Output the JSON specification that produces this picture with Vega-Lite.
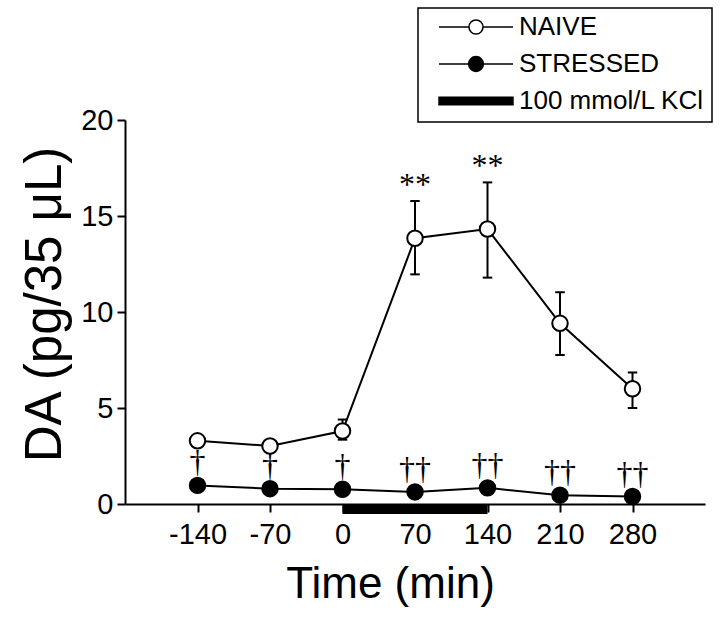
{
  "$schema": "https://vega.github.io/schema/vega-lite/v6.json",
  "width": 580,
  "height": 384,
  "autosize": "none",
  "padding": {"left": 125, "top": 120, "right": 15, "bottom": 124},
  "background": "white",
  "config": {
    "view": {"stroke": null},
    "font": "Liberation Sans",
    "axis": {
      "grid": false,
      "domainColor": "black",
      "domainWidth": 2,
      "tickColor": "black",
      "tickWidth": 2,
      "tickSize": 8,
      "labelColor": "black",
      "labelFont": "Liberation Sans",
      "labelFontSize": 29,
      "titleColor": "black",
      "titleFont": "Liberation Sans",
      "titleFontWeight": "normal"
    },
    "legend": {
      "labelFont": "Liberation Sans",
      "labelFontSize": 26,
      "labelColor": "black",
      "labelLimit": 400
    }
  },
  "datasets": {
    "series": [
      {"time": -140, "group": "NAIVE", "mean": 3.29, "lo": 3.15, "hi": 3.45, "note": ""},
      {"time": -70, "group": "NAIVE", "mean": 3.02, "lo": 2.9, "hi": 3.15, "note": ""},
      {"time": 0, "group": "NAIVE", "mean": 3.8, "lo": 3.35, "hi": 4.4, "note": ""},
      {"time": 70, "group": "NAIVE", "mean": 13.84, "lo": 11.96, "hi": 15.78, "note": "**"},
      {"time": 140, "group": "NAIVE", "mean": 14.32, "lo": 11.79, "hi": 16.75, "note": "**"},
      {"time": 210, "group": "NAIVE", "mean": 9.41, "lo": 7.76, "hi": 11.03, "note": ""},
      {"time": 280, "group": "NAIVE", "mean": 6.0, "lo": 5.0, "hi": 6.85, "note": ""},
      {"time": -140, "group": "STRESSED", "mean": 0.97, "lo": 0.9, "hi": 1.05, "note": "†"},
      {"time": -70, "group": "STRESSED", "mean": 0.8, "lo": 0.75, "hi": 0.85, "note": "†"},
      {"time": 0, "group": "STRESSED", "mean": 0.77, "lo": 0.72, "hi": 0.82, "note": "†"},
      {"time": 70, "group": "STRESSED", "mean": 0.63, "lo": 0.58, "hi": 0.68, "note": "††"},
      {"time": 140, "group": "STRESSED", "mean": 0.84, "lo": 0.79, "hi": 0.89, "note": "††"},
      {"time": 210, "group": "STRESSED", "mean": 0.46, "lo": 0.41, "hi": 0.51, "note": "††"},
      {"time": 280, "group": "STRESSED", "mean": 0.39, "lo": 0.34, "hi": 0.44, "note": "††"}
    ],
    "kcl": [{"start": 0, "end": 140, "group": "100 mmol/L KCl"}]
  },
  "layer": [
    {
      "data": {"name": "kcl"},
      "mark": {"type": "rule", "strokeWidth": 9, "color": "black", "yOffset": 5.5},
      "encoding": {
        "x": {"field": "start", "type": "quantitative", "scale": {"domain": [-210, 350], "nice": false}, "title": "Time (min)"},
        "x2": {"field": "end"},
        "y": {"datum": 0, "type": "quantitative", "scale": {"domain": [0, 20], "nice": false}, "title": "DA (pg/35 μL)"}
      }
    },
    {
      "data": {"name": "series"},
      "mark": {"type": "line", "color": "black", "strokeWidth": 2},
      "encoding": {
        "x": {
          "field": "time", "type": "quantitative",
          "scale": {"domain": [-210, 350], "nice": false},
          "title": "Time (min)",
          "axis": {
            "values": [-140, -70, 0, 70, 140, 210, 280],
            "labelExpr": "'' + datum.value",
            "labelPadding": 8,
            "titleFontSize": 44,
            "titlePadding": 13,
            "titleX": 265
          }
        },
        "y": {
          "field": "mean", "type": "quantitative",
          "scale": {"domain": [0, 20], "nice": false},
          "title": "DA (pg/35 μL)",
          "axis": {
            "values": [0, 5, 10, 15, 20],
            "labelPadding": 4,
            "titleFontSize": 51,
            "titlePadding": 9,
            "titleY": 184
          }
        },
        "detail": {"field": "group"}
      }
    },
    {
      "data": {"name": "series"},
      "mark": {"type": "rule", "color": "black", "strokeWidth": 2},
      "encoding": {
        "x": {"field": "time", "type": "quantitative", "title": "Time (min)"},
        "y": {"field": "lo", "type": "quantitative", "title": "DA (pg/35 μL)"},
        "y2": {"field": "hi"}
      }
    },
    {
      "data": {"name": "series"},
      "mark": {"type": "point", "shape": "stroke", "size": 90, "strokeWidth": 2, "color": "black", "opacity": 1},
      "encoding": {
        "x": {"field": "time", "type": "quantitative", "title": "Time (min)"},
        "y": {"field": "lo", "type": "quantitative", "title": "DA (pg/35 μL)"}
      }
    },
    {
      "data": {"name": "series"},
      "mark": {"type": "point", "shape": "stroke", "size": 90, "strokeWidth": 2, "color": "black", "opacity": 1},
      "encoding": {
        "x": {"field": "time", "type": "quantitative", "title": "Time (min)"},
        "y": {"field": "hi", "type": "quantitative", "title": "DA (pg/35 μL)"}
      }
    },
    {
      "data": {"name": "series"},
      "mark": {"type": "point", "shape": "circle", "filled": true, "size": 240, "stroke": "black", "strokeWidth": 2, "opacity": 1},
      "encoding": {
        "x": {"field": "time", "type": "quantitative", "title": "Time (min)"},
        "y": {"field": "mean", "type": "quantitative", "title": "DA (pg/35 μL)"},
        "fill": {"condition": {"test": "datum.group === 'NAIVE'", "value": "white"}, "value": "black"}
      }
    },
    {
      "data": {"name": "kcl"},
      "transform": [{"filter": "datum.start > 1000"}],
      "mark": {"type": "point", "filled": true, "stroke": "black", "strokeWidth": 1.5, "opacity": 1},
      "encoding": {
        "x": {"field": "start", "type": "quantitative", "title": "Time (min)"},
        "y": {"field": "end", "type": "quantitative", "title": "DA (pg/35 μL)"},
        "fill": {
          "field": "group", "type": "nominal",
          "scale": {"domain": ["NAIVE", "STRESSED", "100 mmol/L KCl"], "range": ["white", "black", "black"]},
          "legend": {
            "title": null,
            "orient": "none",
            "legendX": 293,
            "legendY": -112,
            "strokeColor": "black",
            "fillColor": "white",
            "padding": 8,
            "symbolOffset": 12,
            "symbolSize": 5476,
            "labelOffset": 5,
            "rowPadding": 11,
            "clipHeight": 22,
            "symbolStrokeColor": "black",
            "symbolStrokeWidth": 1.5,
            "symbolOpacity": 1,
            "encode": {
              "legend": {"update": {"strokeWidth": {"value": 1.5}}}
            }
          }
        },
        "shape": {
          "field": "group", "type": "nominal",
          "scale": {
            "domain": ["NAIVE", "STRESSED", "100 mmol/L KCl"],
            "range": [
              "M-1,0L-0.19,0M0.19,0L1,0M0.19,0C0.19,0.105,0.105,0.19,0,0.19C-0.105,0.19,-0.19,0.105,-0.19,0C-0.19,-0.105,-0.105,-0.19,0,-0.19C0.105,-0.19,0.19,-0.105,0.19,0Z",
              "M-1,0L-0.2,0M0.2,0L1,0M0.2,0C0.2,0.11,0.11,0.2,0,0.2C-0.11,0.2,-0.2,0.11,-0.2,0C-0.2,-0.11,-0.11,-0.2,0,-0.2C0.11,-0.2,0.2,-0.11,0.2,0Z",
              "M-1,-0.1L1,-0.1L1,0.1L-1,0.1Z"
            ]
          },
          "legend": {
            "title": null,
            "orient": "none",
            "legendX": 293,
            "legendY": -112
          }
        }
      }
    },
    {
      "data": {"name": "series"},
      "transform": [{"filter": "datum.group === 'NAIVE' && datum.note !== ''"}],
      "mark": {"type": "text", "font": "Liberation Serif", "fontSize": 32, "baseline": "middle", "dy": -16, "color": "black"},
      "encoding": {
        "x": {"field": "time", "type": "quantitative", "title": "Time (min)"},
        "y": {"field": "hi", "type": "quantitative", "title": "DA (pg/35 μL)"},
        "text": {"field": "note"}
      }
    },
    {
      "data": {"name": "series"},
      "transform": [{"filter": "datum.group === 'STRESSED'"}],
      "mark": {"type": "text", "font": "Liberation Serif", "fontSize": 32, "baseline": "middle", "dy": -23, "color": "black"},
      "encoding": {
        "x": {"field": "time", "type": "quantitative", "title": "Time (min)"},
        "y": {"field": "mean", "type": "quantitative", "title": "DA (pg/35 μL)"},
        "text": {"field": "note"}
      }
    }
  ]
}
